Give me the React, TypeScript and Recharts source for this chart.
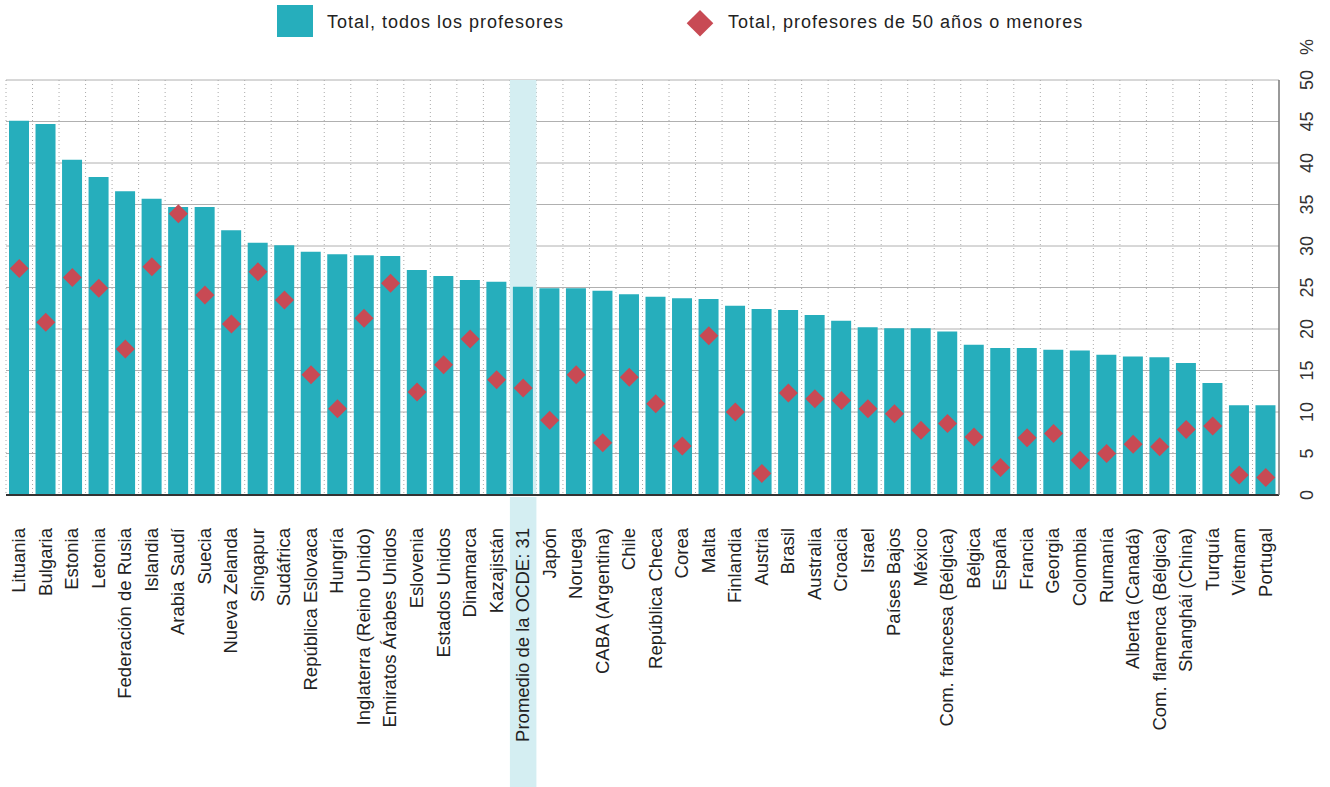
import React from 'react';
import {
  ComposedChart, Bar, Scatter, XAxis, YAxis, CartesianGrid, ReferenceArea,
} from 'recharts';

// categories in the order shown, left to right
const countries = [
  'Lituania', 'Bulgaria', 'Estonia', 'Letonia', 'Federación de Rusia', 'Islandia',
  'Arabia Saudí', 'Suecia', 'Nueva Zelanda', 'Singapur', 'Sudáfrica', 'República Eslovaca',
  'Hungría', 'Inglaterra (Reino Unido)', 'Emiratos Árabes Unidos', 'Eslovenia',
  'Estados Unidos', 'Dinamarca', 'Kazajistán', 'Promedio de la OCDE: 31', 'Japón',
  'Noruega', 'CABA (Argentina)', 'Chile', 'República Checa', 'Corea', 'Malta',
  'Finlandia', 'Austria', 'Brasil', 'Australia', 'Croacia', 'Israel', 'Países Bajos',
  'México', 'Com. francesa (Bélgica)', 'Bélgica', 'España', 'Francia', 'Georgia',
  'Colombia', 'Rumanía', 'Alberta (Canadá)', 'Com. flamenca (Bélgica)', 'Shanghái (China)',
  'Turquía', 'Vietnam', 'Portugal',
];

// Total, todos los profesores (%)
const totalAll = [
  45.1, 44.7, 40.4, 38.3, 36.6, 35.7, 34.7, 34.7, 31.9, 30.4, 30.1, 29.3,
  29.0, 28.9, 28.8, 27.1, 26.4, 25.9, 25.7, 25.1, 24.9, 24.9, 24.6, 24.2,
  23.9, 23.7, 23.6, 22.8, 22.4, 22.3, 21.7, 21.0, 20.2, 20.1, 20.1, 19.7,
  18.1, 17.7, 17.7, 17.5, 17.4, 16.9, 16.7, 16.6, 15.9, 13.5, 10.8, 10.8,
];

// Total, profesores de 50 años o menores (%)
const totalUnder50 = [
  27.3, 20.8, 26.2, 24.9, 17.6, 27.5, 33.9, 24.1, 20.6, 26.9, 23.5, 14.5,
  10.4, 21.3, 25.5, 12.4, 15.7, 18.8, 13.9, 12.9, 9.0, 14.5, 6.3, 14.2,
  11.0, 5.9, 19.2, 10.0, 2.6, 12.3, 11.6, 11.4, 10.4, 9.8, 7.8, 8.6,
  7.0, 3.3, 6.9, 7.4, 4.2, 5.0, 6.1, 5.8, 7.9, 8.3, 2.4, 2.1,
];

const yTicks = [0, 5, 10, 15, 20, 25, 30, 35, 40, 45, 50];
const highlight = 'Promedio de la OCDE: 31';

const legendAll = 'Total, todos los profesores';
const legendUnder50 = 'Total, profesores de 50 años o menores';

const TEAL = '#26aebc';
const RED = '#c84a54';
const BAND = '#d4eef2';
const FONT = '"Liberation Sans", Arial, Helvetica, sans-serif';

const data = countries.map((name, i) => ({
  name,
  total: totalAll[i],
  under50: totalUnder50[i],
}));

const Diamond = (props: any) => {
  const { cx, cy } = props;
  if (cx == null || cy == null) return null;
  const r = 9.5;
  return (
    <path
      d={`M${cx},${cy - r}L${cx + r},${cy}L${cx},${cy + r}L${cx - r},${cy}Z`}
      fill={RED}
    />
  );
};

const CountryTick = (props: any) => {
  const { x, y, payload, width } = props;
  const band = width ? width / countries.length : 26.5;
  return (
    <g>
      {payload.value === highlight && (
        <rect x={x - band / 2} y={y - 31} width={band} height={300} fill={BAND} />
      )}
      <text
        x={x}
        y={y}
        dy="0.32em"
        transform={`rotate(-90, ${x}, ${y})`}
        textAnchor="end"
        fontSize={18.5}
        fontFamily={FONT}
        fill="#222"
      >
        {payload.value}
      </text>
    </g>
  );
};

const PercentTick = (props: any) => {
  const { x, y, payload } = props;
  return (
    <g>
      <text
        x={x}
        y={y}
        transform={`rotate(-90, ${x}, ${y})`}
        textAnchor="middle"
        fontSize={18}
        fontFamily={FONT}
        fill="#333"
      >
        {payload.value}
      </text>
      {payload.value === 50 && (
        <text
          x={x}
          y={y - 33}
          transform={`rotate(-90, ${x}, ${y - 33})`}
          textAnchor="middle"
          fontSize={18}
          fontFamily={FONT}
          fill="#333"
        >
          %
        </text>
      )}
    </g>
  );
};

const App = () => {
  return (
    <div style={{ position: 'absolute', left: 0, top: 0, width: 1330, height: 787, background: '#fff' }}>
      <svg width={1330} height={50} style={{ position: 'absolute', left: 0, top: 0 }}>
        <rect x={277} y={5} width={36} height={32} fill={TEAL} />
        <text x={327} y={28} fontSize={18} letterSpacing={1} fontFamily={FONT} fill="#222">
          {legendAll}
        </text>
        <path d="M700,10L713.3,23.3L700,36.6L686.7,23.3Z" fill={RED} />
        <text x={728} y={28} fontSize={18} letterSpacing={1} fontFamily={FONT} fill="#222">
          {legendUnder50}
        </text>
      </svg>
      <ComposedChart
        width={1330}
        height={787}
        data={data}
        margin={{ top: 80, right: 0, bottom: 0, left: 6 }}
        style={{ position: 'absolute', left: 0, top: 0 }}
      >
        <CartesianGrid horizontal={true} vertical={false} stroke="#b0b0b0" />
        <CartesianGrid
          horizontal={false}
          vertical={true}
          stroke="#aaa"
          strokeDasharray="1 3"
          verticalCoordinatesGenerator={({ offset }: any) =>
            countries.map((_, i) => offset.left + (i * offset.width) / countries.length)
          }
        />
        <ReferenceArea x1={highlight} x2={highlight} fill={BAND} fillOpacity={1} stroke="none" />
        <XAxis
          dataKey="name"
          interval={0}
          height={292}
          tickLine={false}
          tickSize={0}
          tickMargin={33}
          axisLine={{ stroke: '#333', strokeWidth: 2 }}
          tick={<CountryTick />}
        />
        <YAxis
          orientation="right"
          width={51}
          domain={[0, 50]}
          ticks={yTicks}
          interval={0}
          tickLine={false}
          tickSize={0}
          tickMargin={34}
          axisLine={{ stroke: '#777', strokeWidth: 1.5 }}
          tick={<PercentTick />}
        />
        <Bar dataKey="total" fill={TEAL} barSize={20} isAnimationActive={false} />
        <Scatter dataKey="under50" shape={<Diamond />} isAnimationActive={false} />
      </ComposedChart>
    </div>
  );
};

export default App;
